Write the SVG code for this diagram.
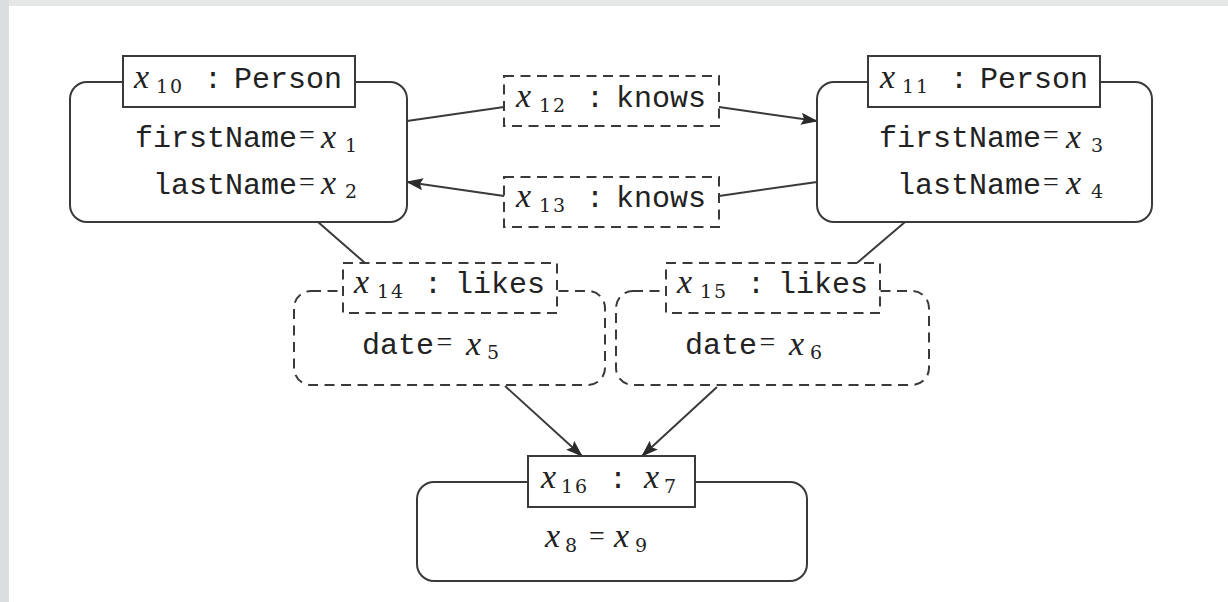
<svg xmlns="http://www.w3.org/2000/svg" width="1228" height="602" viewBox="0 0 1228 602">
<defs>
<style>
.bx{fill:#fff;stroke:#3a3a3a;stroke-width:2}
.dbx{fill:#fff;stroke:#3a3a3a;stroke-width:2;stroke-dasharray:10 6.5}
.ln{fill:none;stroke:#3a3a3a;stroke-width:2}
.tt{font-family:"Liberation Mono",monospace;font-size:30px;fill:#222}
.ttc{font-family:"Liberation Mono",monospace;font-size:30px;fill:#222;text-anchor:middle}
.tte{font-family:"Liberation Mono",monospace;font-size:30px;fill:#222;text-anchor:end}
.mi{font-family:"Liberation Serif",serif;font-style:italic;font-size:34px;fill:#222}
.sb{font-family:"DejaVu Serif",serif;font-size:19px;fill:#222;letter-spacing:2px}
.eq{font-family:"Liberation Serif",serif;font-size:28px;fill:#222;text-anchor:middle}
</style>
<marker id="ah" markerUnits="userSpaceOnUse" markerWidth="17" markerHeight="12" viewBox="0 0 17 12" refX="16" refY="6" orient="auto">
<path d="M0,0 L17,6 L0,12 L3,6 z" fill="#2a2a2a"/>
</marker>
</defs>
<rect x="0" y="0" width="1228" height="602" fill="#fff"/>
<rect x="0" y="0" width="1228" height="6" fill="#e6e8e8"/>
<rect x="0" y="0" width="9" height="602" fill="#d9dede"/>

<g id="connectors">
<line class="ln" x1="407" y1="121" x2="504" y2="107"/>
<line class="ln" x1="719" y1="107" x2="817" y2="121" marker-end="url(#ah)"/>
<line class="ln" x1="817" y1="182" x2="719" y2="196"/>
<line class="ln" x1="504" y1="196" x2="407" y2="182" marker-end="url(#ah)"/>
<line class="ln" x1="318" y1="222" x2="365" y2="263"/>
<line class="ln" x1="905" y1="222" x2="857" y2="263"/>
<line class="ln" x1="505" y1="386" x2="582" y2="456" marker-end="url(#ah)"/>
<line class="ln" x1="717" y1="387" x2="642" y2="456" marker-end="url(#ah)"/>
</g>

<g id="n10">
<rect class="bx" x="70" y="82" width="337" height="140" rx="17"/>
<rect class="bx" x="123" y="56" width="232" height="51"/>
<text class="mi" x="134" y="88">x</text>
<text class="sb" x="156" y="93">10</text>
<text class="ttc" x="213" y="88">:</text>
<text class="tt" x="234" y="88">Person</text>
<text class="tte" x="297" y="147">firstName</text>
<text class="eq" x="307" y="144">=</text>
<text class="mi" x="321" y="148">x</text>
<text class="sb" x="345" y="152">1</text>
<text class="tte" x="297" y="194">lastName</text>
<text class="eq" x="307" y="191">=</text>
<text class="mi" x="321" y="194">x</text>
<text class="sb" x="345" y="198">2</text>
</g>

<g id="n11">
<rect class="bx" x="817" y="82" width="335" height="140" rx="17"/>
<rect class="bx" x="868" y="56" width="232" height="51"/>
<text class="mi" x="880" y="88">x</text>
<text class="sb" x="902" y="93">11</text>
<text class="ttc" x="959" y="88">:</text>
<text class="tt" x="980" y="88">Person</text>
<text class="tte" x="1041" y="147">firstName</text>
<text class="eq" x="1051" y="144">=</text>
<text class="mi" x="1066" y="148">x</text>
<text class="sb" x="1091" y="152">3</text>
<text class="tte" x="1041" y="194">lastName</text>
<text class="eq" x="1051" y="191">=</text>
<text class="mi" x="1066" y="194">x</text>
<text class="sb" x="1091" y="198">4</text>
</g>

<g id="n12">
<rect class="dbx" x="504" y="76" width="215" height="50"/>
<text class="mi" x="516" y="107">x</text>
<text class="sb" x="539" y="112">12</text>
<text class="ttc" x="595" y="107">:</text>
<text class="tt" x="616" y="107">knows</text>
</g>

<g id="n13">
<rect class="dbx" x="504" y="177" width="215" height="50"/>
<text class="mi" x="516" y="207">x</text>
<text class="sb" x="539" y="212">13</text>
<text class="ttc" x="595" y="207">:</text>
<text class="tt" x="616" y="207">knows</text>
</g>

<g id="n14">
<rect class="dbx" x="294" y="291" width="311" height="94" rx="17"/>
<rect class="dbx" x="343" y="263" width="214" height="50"/>
<text class="mi" x="354" y="293">x</text>
<text class="sb" x="377" y="298">14</text>
<text class="ttc" x="433" y="293">:</text>
<text class="tt" x="455" y="293">likes</text>
<text class="tte" x="434" y="354">date</text>
<text class="eq" x="444.5" y="351">=</text>
<text class="mi" x="466" y="355">x</text>
<text class="sb" x="487" y="359">5</text>
</g>

<g id="n15">
<rect class="dbx" x="616" y="291" width="313" height="94" rx="17"/>
<rect class="dbx" x="666" y="263" width="214" height="50"/>
<text class="mi" x="677" y="293">x</text>
<text class="sb" x="700" y="298">15</text>
<text class="ttc" x="756" y="293">:</text>
<text class="tt" x="778" y="293">likes</text>
<text class="tte" x="757" y="354">date</text>
<text class="eq" x="767.5" y="351">=</text>
<text class="mi" x="789" y="355">x</text>
<text class="sb" x="810" y="359">6</text>
</g>

<g id="n16">
<rect class="bx" x="417" y="482" width="390" height="99" rx="17"/>
<rect class="bx" x="528" y="456" width="167" height="51"/>
<text class="mi" x="541" y="488">x</text>
<text class="sb" x="561" y="493">16</text>
<text class="ttc" x="618" y="488">:</text>
<text class="mi" x="644" y="488">x</text>
<text class="sb" x="664" y="493">7</text>
<text class="mi" x="545" y="547">x</text>
<text class="sb" x="565" y="552">8</text>
<text class="eq" x="597" y="545">=</text>
<text class="mi" x="614" y="547">x</text>
<text class="sb" x="635" y="552">9</text>
</g>
</svg>
